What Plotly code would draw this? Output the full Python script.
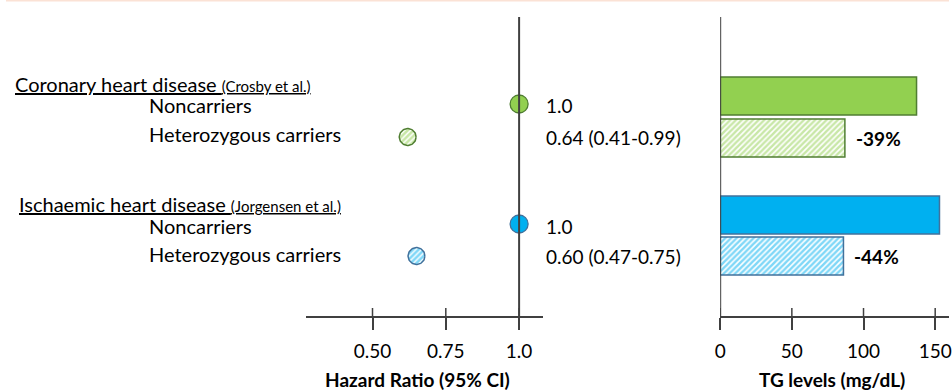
import numpy as np
import plotly.graph_objects as go

# ---------------- data ----------------
groups = ["Coronary heart disease", "Ischaemic heart disease"]
sources = ["(Crosby et al.)", "(Jorgensen et al.)"]
subgroups = ["Noncarriers", "Heterozygous carriers"]
hr_values = [1.0, 0.62, 1.0, 0.65]          # hazard ratios as plotted
hr_labels = ["1.0", "0.64 (0.41-0.99)", "1.0", "0.60 (0.47-0.75)"]
tg_values = [137, 87, 153, 86]              # TG levels (mg/dL)
tg_change = ["", "-39%", "", "-44%"]
hr_ticks = [0.5, 0.75, 1.0]
hr_ticktext = ["0.50", "0.75", "1.0"]
tg_ticks = [0, 50, 100, 150]
tg_ticktext = ["0", "50", "100", "150"]

# ---------------- layout / style ----------------
W, H = 952, 391
FONT = "Lato"
fills = ["#92D050", "#92D050", "#00B0F0", "#00B0F0"]
edges = ["#507E32", "#507E32", "#41719C", "#41719C"]
hatched = [False, True, False, True]
AX = "#404040"
PAD = 3  # annotation inner padding compensation (px)

header_rows = [84, 204]
header_x = [11, 15]
label_rows = [105, 134, 226, 254]
forest_rows = [104, 137, 224, 256]
value_rows = [105, 137, 226, 256]
bar_rows = [96, 138, 215, 256]
bar_w = 38
axis_y = 317

x1_dom_px = (303, 542)
x1_range = (0.5 + (303 - 370) / 296, 0.5 + (542 - 370) / 296)
x2_dom_px = (721, 952)
x2_range = (0, (952 - 721) / 1.447)
x1_per_px = (x1_range[1] - x1_range[0]) / (x1_dom_px[1] - x1_dom_px[0])

fig = go.Figure()

# forest plot markers
for i, v in enumerate(hr_values):
    if hatched[i]:
        r = 8.5
        t = np.linspace(0, 2 * np.pi, 72)
        fig.add_trace(go.Scatter(
            x=v + r * x1_per_px * np.cos(t), y=forest_rows[i] + r * np.sin(t),
            mode="lines", fill="toself", xaxis="x", yaxis="y",
            fillcolor="white",
            fillpattern=dict(shape="/", fgcolor=fills[i], bgcolor="white",
                             size=4, solidity=0.65),
            line=dict(color=edges[i], width=1.5), hoverinfo="skip",
            showlegend=False))
    else:
        fig.add_trace(go.Scatter(
            x=[v], y=[forest_rows[i]], mode="markers", xaxis="x", yaxis="y",
            marker=dict(size=18, color=fills[i],
                        line=dict(color=edges[i], width=1.3)),
            showlegend=False))

# bars
for i, v in enumerate(tg_values):
    if hatched[i]:
        marker = dict(color="white",
                      pattern=dict(shape="/", fgcolor=fills[i], bgcolor="white",
                                   size=4, solidity=0.62),
                      line=dict(color=edges[i], width=1.5))
    else:
        marker = dict(color=fills[i], line=dict(color=edges[i], width=1.5))
    fig.add_trace(go.Bar(x=[v], y=[bar_rows[i]], width=[bar_w], orientation="h",
                         xaxis="x2", yaxis="y", marker=marker, showlegend=False))

ann = []
txt = dict(family=FONT, size=20, color="black")
for g in range(2):
    ann.append(dict(x=(header_x[g] - PAD - 1) / W, y=header_rows[g],
                    xref="paper", yref="y",
                    xanchor="left", yanchor="middle", showarrow=False, font=txt,
                    text="<u>%s <span style='font-size:15px'>%s</span></u>"
                         % (groups[g], sources[g])))
    for s in range(2):
        k = g * 2 + s
        ann.append(dict(x=(147 - PAD - 2) / W, y=label_rows[k], xref="paper", yref="y",
                        xanchor="left", yanchor="middle", showarrow=False,
                        font=txt, text=subgroups[s]))
for k in range(4):
    ann.append(dict(x=(546 - PAD) / W, y=value_rows[k], xref="paper", yref="y",
                    xanchor="left", yanchor="middle", showarrow=False,
                    font=dict(family=FONT, size=19, color="black"), text=hr_labels[k]))
    if tg_change[k]:
        ann.append(dict(x=tg_values[k], y=bar_rows[k], xref="x2", yref="y",
                        xanchor="left", yanchor="middle", xshift=9, showarrow=False,
                        font=dict(family=FONT, size=19, color="black"),
                        text="<b>%s</b>" % tg_change[k]))
ann.append(dict(x=415 / W, y=379, xref="paper", yref="y", showarrow=False,
                xanchor="center", yanchor="middle",
                font=dict(family=FONT, size=19, color="black"),
                text="<b>Hazard Ratio (95% CI)</b>"))
ann.append(dict(x=834 / W, y=379, xref="paper", yref="y", showarrow=False,
                xanchor="center", yanchor="middle",
                font=dict(family=FONT, size=19, color="black"),
                text="<b>TG levels (mg/dL)</b>"))

shapes = [
    dict(type="line", xref="paper", yref="y", x0=0, x1=1, y0=0.5, y1=0.5,
         line=dict(color="#FBE2D5", width=2)),
    dict(type="line", xref="x", yref="y", x0=1.0, x1=1.0, y0=17, y1=axis_y,
         line=dict(color=AX, width=2)),
    dict(type="line", xref="x2", yref="y", x0=0, x1=0, y0=17, y1=axis_y,
         line=dict(color=AX, width=2)),
]
for tv in hr_ticks:
    shapes.append(dict(type="line", xref="x", yref="y", x0=tv, x1=tv,
                       y0=axis_y - 9, y1=axis_y, line=dict(color=AX, width=1.5)))
for tv in tg_ticks:
    shapes.append(dict(type="line", xref="x2", yref="y", x0=tv, x1=tv,
                       y0=axis_y - 9, y1=axis_y, line=dict(color=AX, width=1.5)))

pos = 1 - axis_y / H
common_x = dict(anchor="free", position=pos, showline=True, linecolor=AX,
                linewidth=1.5, ticks="outside", ticklen=12, tickwidth=1.5,
                tickcolor=AX, showgrid=False, zeroline=False, tickmode="array",
                ticklabelstandoff=5, ticklabeloverflow="allow",
                tickfont=dict(family=FONT, size=19, color="black"), fixedrange=True)

fig.update_layout(
    width=W, height=H, margin=dict(l=0, r=0, t=0, b=0),
    paper_bgcolor="white", plot_bgcolor="white", barmode="overlay",
    xaxis=dict(domain=[x1_dom_px[0] / W, x1_dom_px[1] / W], range=list(x1_range),
               tickvals=hr_ticks, ticktext=hr_ticktext, **common_x),
    xaxis2=dict(domain=[x2_dom_px[0] / W, x2_dom_px[1] / W], range=list(x2_range),
                tickvals=tg_ticks, ticktext=tg_ticktext, **common_x),
    yaxis=dict(domain=[0, 1], range=[H, 0], visible=False, fixedrange=True),
    annotations=ann, shapes=shapes, showlegend=False,
)

fig.write_html("out.html", config={"displayModeBar": False},
               post_script="document.body.style.margin='0';")
